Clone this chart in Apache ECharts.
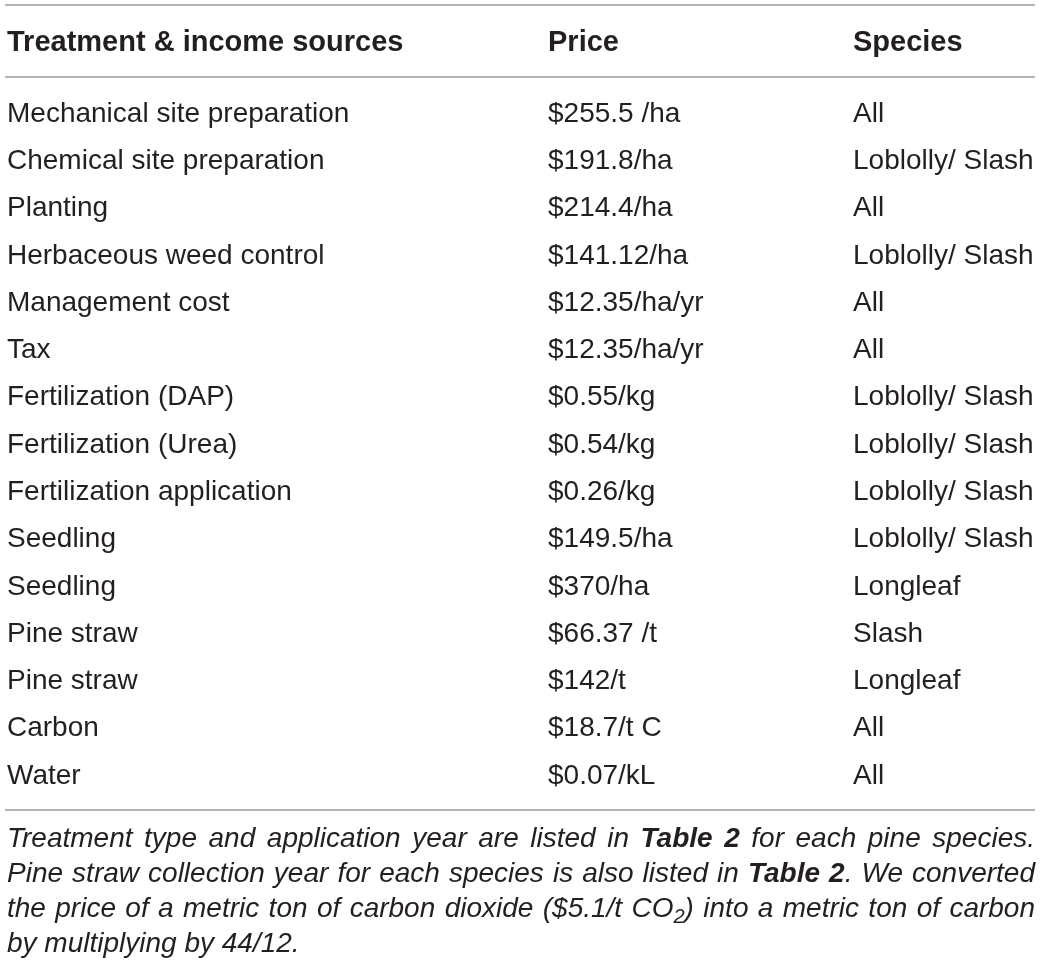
<!DOCTYPE html>
<html>
<head>
<meta charset="utf-8">
<style>
  html, body { margin: 0; padding: 0; background: #fff; }
  #chart-container { width: 1041px; height: 971px; }
</style>
<script src="https://cdn.jsdelivr.net/npm/echarts@6/dist/echarts.min.js"></script>
</head>
<body>
<div id="chart-container"></div>
<script>
var headers = ['Treatment & income sources', 'Price', 'Species'];
var treatments = [
  'Mechanical site preparation', 'Chemical site preparation', 'Planting',
  'Herbaceous weed control', 'Management cost', 'Tax', 'Fertilization (DAP)',
  'Fertilization (Urea)', 'Fertilization application', 'Seedling', 'Seedling',
  'Pine straw', 'Pine straw', 'Carbon', 'Water'
];
var prices = [
  '$255.5 /ha', '$191.8/ha', '$214.4/ha', '$141.12/ha', '$12.35/ha/yr',
  '$12.35/ha/yr', '$0.55/kg', '$0.54/kg', '$0.26/kg', '$149.5/ha', '$370/ha',
  '$66.37 /t', '$142/t', '$18.7/t C', '$0.07/kL'
];
var species = [
  'All', 'Loblolly/ Slash', 'All', 'Loblolly/ Slash', 'All', 'All',
  'Loblolly/ Slash', 'Loblolly/ Slash', 'Loblolly/ Slash', 'Loblolly/ Slash',
  'Longleaf', 'Slash', 'Longleaf', 'All', 'All'
];
// caption runs: [text, style] style: n = normal, b = bold, s = subscript
var captionLines = [
  [['Treatment type and application year are listed in ', 'n'], ['Table 2', 'b'], [' for each pine species.', 'n']],
  [['Pine straw collection year for each species is also listed in ', 'n'], ['Table 2', 'b'], ['. We converted', 'n']],
  [['the price of a metric ton of carbon dioxide ($5.1/t CO', 'n'], ['2', 's'], [') into a metric ton of carbon', 'n']],
  [['by multiplying by 44/12.', 'n']]
];

var columns = [treatments, prices, species];
var COL_X = [7, 548, 853];
var TEXT = '#231f20';
var RULE = '#9b9b9b';
var FONT = '"Liberation Sans", Arial, sans-serif';
var CAP_SIZE = 28;

var cells = [];
columns.forEach(function (col, c) {
  col.forEach(function (txt, r) { cells.push([c, r, txt]); });
});

// caption: justified lines, measured with canvas
var ctx = document.createElement('canvas').getContext('2d');
function runFont(st) {
  if (st === 'b') return 'italic bold ' + CAP_SIZE + 'px ' + FONT;
  if (st === 's') return 'italic ' + Math.round(CAP_SIZE * 0.7) + 'px ' + FONT;
  return 'italic ' + CAP_SIZE + 'px ' + FONT;
}
function measure(t, st) { ctx.font = runFont(st); return ctx.measureText(t).width; }

var captionGraphics = [];
var capLeft = 7, capRight = 1035, capTop = 839.5, capStep = 35;
captionLines.forEach(function (runs, li) {
  var words = [[]];
  runs.forEach(function (run) {
    var parts = run[0].split(' ');
    parts.forEach(function (p, i) {
      if (i > 0) words.push([]);
      if (p) words[words.length - 1].push([p, run[1]]);
    });
  });
  words = words.filter(function (w) { return w.length; });
  var widths = words.map(function (w) {
    return w.reduce(function (s, r) { return s + measure(r[0], r[1]); }, 0);
  });
  var total = widths.reduce(function (a, b) { return a + b; }, 0);
  var space = measure(' ', 'n');
  var justify = li < captionLines.length - 1;
  var gap = justify ? (capRight - capLeft - total) / (words.length - 1) : space;
  var x = capLeft;
  var y = capTop + li * capStep;
  words.forEach(function (w, wi) {
    var rx = x;
    w.forEach(function (r) {
      captionGraphics.push({
        type: 'text', x: rx, y: r[1] === 's' ? y + 8 : y,
        style: {
          text: r[0], fill: TEXT,
          font: runFont(r[1]),
          textAlign: 'left', textVerticalAlign: 'middle'
        }
      });
      rx += measure(r[0], r[1]);
    });
    x += widths[wi] + gap;
  });
});

function rule(y) {
  return { type: 'line', shape: { x1: 5, y1: y, x2: 1035, y2: y }, style: { stroke: RULE, lineWidth: 1.5 } };
}

var dom = document.getElementById('chart-container');
var myChart = echarts.init(dom, null, { renderer: 'canvas' });

option = {
  backgroundColor: '#fff',
  animation: false,
  grid: { left: 0, right: 0, top: 90.4, height: 709.3 },
  xAxis: { type: 'value', min: 0, max: 1041, show: false },
  yAxis: {
    type: 'category', inverse: true, show: false,
    data: treatments.map(function (t, i) { return i; })
  },
  graphic: [
    rule(5), rule(77), rule(810)
  ].concat(headers.map(function (h, i) {
    return {
      type: 'text', x: COL_X[i], y: 43,
      style: {
        text: h, fill: TEXT, font: 'bold 29px ' + FONT,
        textAlign: 'left', textVerticalAlign: 'middle'
      }
    };
  })).concat(captionGraphics),
  series: [{
    type: 'custom',
    data: cells,
    renderItem: function (params, api) {
      var c = api.value(0);
      var pt = api.coord([COL_X[c], api.value(1)]);
      return {
        type: 'text', x: pt[0], y: pt[1],
        style: {
          text: cells[params.dataIndex][2], fill: TEXT,
          font: '28px ' + FONT,
          textAlign: 'left', textVerticalAlign: 'middle'
        }
      };
    }
  }]
};

myChart.setOption(option);
window.addEventListener('resize', myChart.resize);
</script>
</body>
</html>
